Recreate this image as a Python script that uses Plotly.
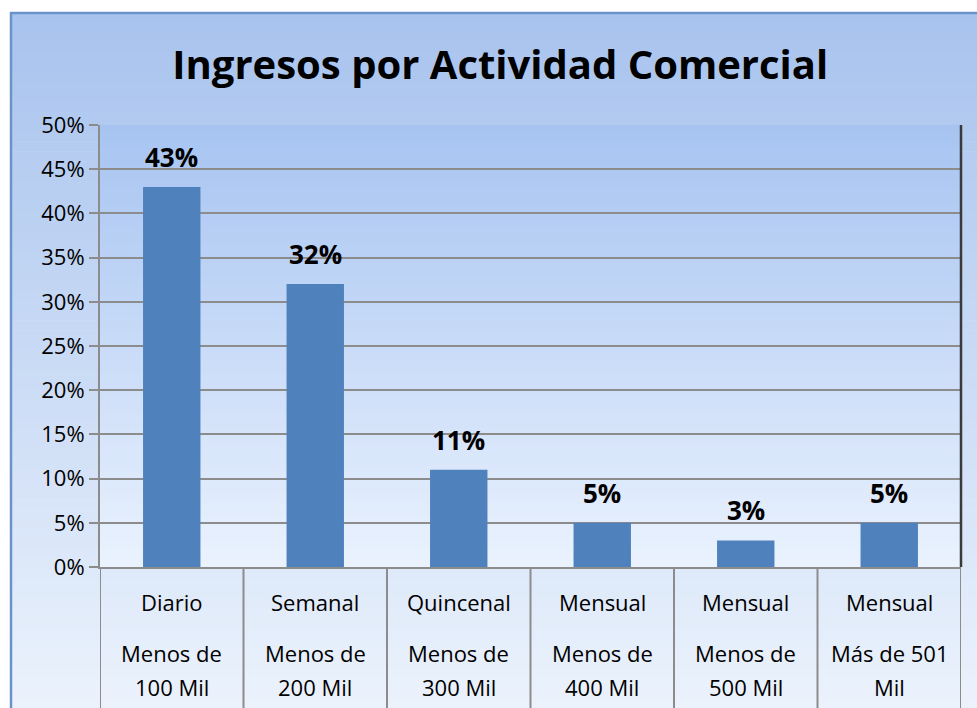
import plotly.graph_objects as go

# ---- data ----
frecuencia = ["Diario", "Semanal", "Quincenal", "Mensual", "Mensual", "Mensual"]
rango_linea1 = ["Menos de", "Menos de", "Menos de", "Menos de", "Menos de", "Más de 501"]
rango_linea2 = ["100 Mil", "200 Mil", "300 Mil", "400 Mil", "500 Mil", "Mil"]
porcentajes = [43, 32, 11, 5, 3, 5]
y_ticks = [0, 5, 10, 15, 20, 25, 30, 35, 40, 45, 50]
y_tick_text = ["0%", "5%", "10%", "15%", "20%", "25%", "30%", "35%", "40%", "45%", "50%"]

W, H = 977, 708
L, R, T, B = 100, 16, 125, 141
PW, PH = W - L - R, H - T - B
FONT = "Open Sans, Noto Sans, sans-serif"

def px_x(px):
    return (px - L) / PW

def px_y(py):
    return (H - B - py) / PH

def lerp(c1, c2, t):
    return "rgb(%d,%d,%d)" % tuple(round(a + (b - a) * t) for a, b in zip(c1, c2))

x_idx = list(range(len(porcentajes)))

fig = go.Figure()
fig.add_trace(go.Bar(
    x=x_idx, y=porcentajes, width=0.4,
    marker=dict(color="#4F81BD", line=dict(width=0)),
    hoverinfo="skip",
))

shapes = []
# outer gradient background
n = 70
top_c, bot_c = (168, 195, 238), (235, 242, 252)
y_top, y_bot = 12, 708
for i in range(n):
    a = y_top + (y_bot - y_top) * i / n
    b = y_top + (y_bot - y_top) * (i + 1) / n + 0.6
    shapes.append(dict(type="rect", xref="paper", yref="paper", layer="below",
                       x0=px_x(10), x1=px_x(980), y0=px_y(b), y1=px_y(a),
                       fillcolor=lerp(top_c, bot_c, i / (n - 1)), line=dict(width=0)))
# plot area gradient
ptop, pbot = (167, 196, 241), (234, 242, 254)
for i in range(n):
    a = T + PH * i / n
    b = T + PH * (i + 1) / n + 0.6
    shapes.append(dict(type="rect", xref="paper", yref="paper", layer="below",
                       x0=0, x1=1, y0=px_y(min(b, T + PH)), y1=px_y(a),
                       fillcolor=lerp(ptop, pbot, i / (n - 1)), line=dict(width=0)))
# outer border (left & top)
shapes.append(dict(type="line", xref="paper", yref="paper", x0=px_x(11), x1=px_x(11),
                   y0=px_y(708), y1=px_y(12), line=dict(color="#6C93C9", width=2.5)))
shapes.append(dict(type="line", xref="paper", yref="paper", x0=px_x(10), x1=px_x(980),
                   y0=px_y(13), y1=px_y(13), line=dict(color="#6C93C9", width=2.5)))
# plot right border
shapes.append(dict(type="line", xref="paper", yref="paper", x0=1, x1=1,
                   y0=0, y1=1, line=dict(color="#3A3A3A", width=2.5)))
# category divider lines
for k in range(len(porcentajes) + 1):
    shapes.append(dict(type="line", xref="x", yref="paper", x0=k - 0.5, x1=k - 0.5,
                       y0=px_y(708), y1=0, line=dict(color="#8C8C8C", width=2)))

annotations = []
font_lbl = dict(family=FONT, size=22, color="#000000")
for i in x_idx:
    annotations.append(dict(x=i, y=px_y(602), xref="x", yref="paper", text=frecuencia[i],
                            showarrow=False, font=font_lbl, yanchor="middle"))
    annotations.append(dict(x=i, y=px_y(653), xref="x", yref="paper", text=rango_linea1[i],
                            showarrow=False, font=font_lbl, yanchor="middle"))
    annotations.append(dict(x=i, y=px_y(687), xref="x", yref="paper", text=rango_linea2[i],
                            showarrow=False, font=font_lbl, yanchor="middle"))
    annotations.append(dict(x=i, y=porcentajes[i], xref="x", yref="y",
                            text="<b>%d%%</b>" % porcentajes[i], showarrow=False,
                            yanchor="bottom", yshift=10,
                            font=dict(family=FONT, size=26, color="#000000")))

fig.update_layout(
    width=W, height=H,
    margin=dict(l=L, r=R, t=T, b=B),
    paper_bgcolor="white",
    plot_bgcolor="rgba(0,0,0,0)",
    showlegend=False,
    title=dict(text="<b>Ingresos por Actividad Comercial</b>", x=0.512, xanchor="center",
               y=1 - 65 / H, yanchor="middle",
               font=dict(family=FONT, size=40, color="#000000")),
    xaxis=dict(range=[-0.5, len(porcentajes) - 0.5], showticklabels=False, showgrid=False,
               zeroline=False, showline=True, linecolor="#8C8C8C", linewidth=2, ticks="",
               fixedrange=True),
    yaxis=dict(range=[0, 50], tickvals=y_ticks, ticktext=y_tick_text, tickmode="array",
               showgrid=True, gridcolor="#8C8C8C", gridwidth=1.5,
               zeroline=False, showline=True, linecolor="#8C8C8C", linewidth=2,
               ticks="outside", ticklen=9, tickcolor="#8C8C8C", tickwidth=2,
               tickfont=dict(family=FONT, size=22, color="#000000"), fixedrange=True),
    shapes=shapes,
    annotations=annotations,
)

fig.write_html("out.html", config={"displayModeBar": False},
               post_script="document.body.style.margin='0px';document.body.style.overflow='hidden';")
